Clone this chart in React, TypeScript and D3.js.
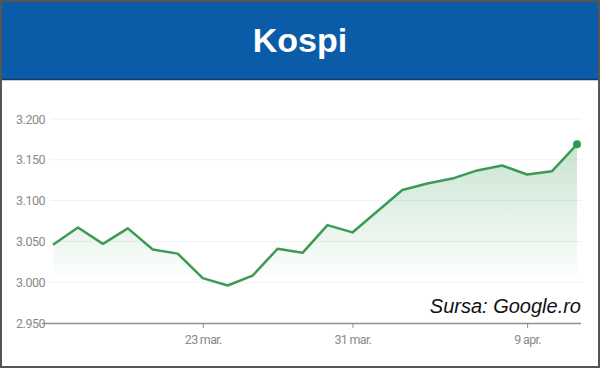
import React, { useRef, useEffect } from 'react';
import * as d3 from 'd3';

// trading days, 15 mar. - 13 apr.
const dates = [
  '15 mar.', '16 mar.', '17 mar.', '18 mar.', '19 mar.', '22 mar.', '23 mar.', '24 mar.',
  '25 mar.', '26 mar.', '29 mar.', '30 mar.', '31 mar.', '1 apr.', '2 apr.', '5 apr.',
  '6 apr.', '7 apr.', '8 apr.', '9 apr.', '12 apr.', '13 apr.'
];
const values = [
  3046, 3067, 3047, 3066, 3040, 3035, 3005, 2996,
  3008, 3041, 3036, 3070, 3061, 3087, 3113, 3121,
  3127, 3137, 3143, 3132, 3136, 3169
];
const xTickLabels = ['23 mar.', '31 mar.', '9 apr.'];
const yTicks = [2950, 3000, 3050, 3100, 3150, 3200];

const W = 600;
const H = 368;

const App = () => {
  const ref = useRef<SVGSVGElement>(null);

  useEffect(() => {
    const svg = d3.select(ref.current);
    svg.selectAll('*').remove();

    // frame + header
    svg.append('rect').attr('x', 0).attr('y', 0).attr('width', W).attr('height', H).attr('fill', '#fff');
    svg.append('rect').attr('x', 0).attr('y', 0).attr('width', W).attr('height', 79).attr('fill', '#0b5ca8');
    svg.append('line').attr('x1', 0).attr('x2', W).attr('y1', 79.5).attr('y2', 79.5).attr('stroke', '#123a63').attr('stroke-width', 1.5);
    svg.append('rect').attr('x', 1).attr('y', 1).attr('width', W - 2).attr('height', H - 2)
      .attr('fill', 'none').attr('stroke', '#555').attr('stroke-width', 2);
    svg.append('text')
      .attr('x', W / 2).attr('y', 52)
      .attr('text-anchor', 'middle')
      .attr('font-family', 'Liberation Sans, Arial, sans-serif')
      .attr('font-weight', 'bold')
      .attr('font-size', 34)
      .attr('fill', '#fff')
      .text('Kospi');

    const x = d3.scalePoint<string>().domain(dates).range([53, 577]);
    const y = d3.scaleLinear().domain([2950, 3200]).range([323, 119]);

    const defs = svg.append('defs');
    const grad = defs.append('linearGradient')
      .attr('id', 'areaGrad')
      .attr('gradientUnits', 'userSpaceOnUse')
      .attr('x1', 0).attr('x2', 0)
      .attr('y1', y(3170)).attr('y2', y(3000));
    grad.append('stop').attr('offset', '0%').attr('stop-color', '#3a9d56').attr('stop-opacity', 0.28);
    grad.append('stop').attr('offset', '100%').attr('stop-color', '#3a9d56').attr('stop-opacity', 0);

    // y labels + gridlines
    const yAxis = svg.append('g')
      .attr('transform', 'translate(47,0)')
      .call(d3.axisLeft(y).tickValues(yTicks).tickSize(0).tickPadding(2)
        .tickFormat(d => d3.format(',')(d as number).replace(',', '.')));
    yAxis.select('.domain').remove();
    yAxis.selectAll('text')
      .attr('font-family', 'Roboto, sans-serif')
      .attr('font-size', 12.5)
      .attr('letter-spacing', -0.5)
      .attr('fill', '#8a8a8a');
    svg.append('g')
      .selectAll('line')
      .data(yTicks.slice(1))
      .join('line')
      .attr('x1', 50).attr('x2', 582)
      .attr('y1', d => y(d)).attr('y2', d => y(d))
      .attr('stroke', '#f0f0f0');

    const area = d3.area<number>()
      .x((_, i) => x(dates[i])!)
      .y0(y(2950))
      .y1(d => y(d));
    svg.append('path').datum(values).attr('d', area).attr('fill', 'url(#areaGrad)');

    // x axis
    const xAxis = svg.append('g')
      .attr('transform', `translate(0,${y(2950)})`)
      .call(d3.axisBottom(x).tickValues(xTickLabels).tickSize(5).tickPadding(7).tickSizeOuter(0));
    xAxis.select('.domain').attr('d', 'M42,0.5H581').attr('stroke', '#8f8f8f').attr('stroke-width', 1.5);
    xAxis.selectAll('.tick line').attr('stroke', '#8f8f8f');
    xAxis.selectAll('text')
      .attr('font-family', 'Roboto, sans-serif')
      .attr('font-size', 12.5)
      .attr('letter-spacing', -0.7)
      .attr('fill', '#8a8a8a');

    const line = d3.line<number>()
      .x((_, i) => x(dates[i])!)
      .y(d => y(d));
    svg.append('path').datum(values).attr('d', line)
      .attr('fill', 'none').attr('stroke', '#3d9a55').attr('stroke-width', 2.5)
      .attr('stroke-linejoin', 'round');

    svg.append('circle')
      .attr('cx', x(dates[dates.length - 1])!)
      .attr('cy', y(values[values.length - 1]))
      .attr('r', 4).attr('fill', '#2f9a4f');

    svg.append('text')
      .attr('x', 581).attr('y', 313)
      .attr('text-anchor', 'end')
      .attr('font-family', 'Liberation Sans, Arial, sans-serif')
      .attr('font-style', 'italic')
      .attr('font-size', 20)
      .attr('fill', '#111')
      .text('Sursa: Google.ro');
  }, []);

  return <svg ref={ref} width={W} height={H} style={{ position: 'absolute', left: 0, top: 0 }}></svg>;
};

export default App;
